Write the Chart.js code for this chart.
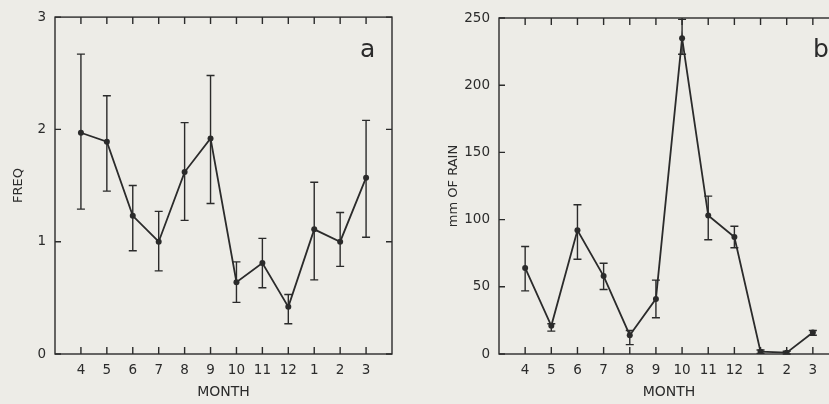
<!DOCTYPE html>
<html>
<head>
<title>Monthly frequency and rainfall</title>
<script src="https://cdn.jsdelivr.net/npm/chart.js@4.4.1/dist/chart.umd.min.js"></script>
<style>
    html, body { margin: 0; padding: 0; width: 829px; height: 404px; overflow: hidden; background: #edece7; }
    .panel { position: absolute; top: 0; height: 404px; }
    #panelA { left: 0; width: 420px; }
    #panelB { left: 420px; width: 440px; }
</style>
</head>
<body>
<div class="panel" id="panelA"><canvas id="freqChart" width="420" height="404"></canvas></div>
<div class="panel" id="panelB"><canvas id="rainChart" width="440" height="404"></canvas></div>

<script>
// months, April to March
const months = ['4', '5', '6', '7', '8', '9', '10', '11', '12', '1', '2', '3'];

// panel a - FREQ, mean with upper / lower bar ends
const freqMean = [1.97, 1.89, 1.23, 1.0, 1.62, 1.92, 0.64, 0.81, 0.42, 1.11, 1.0, 1.57];
const freqHigh = [2.67, 2.30, 1.50, 1.27, 2.06, 2.48, 0.82, 1.03, 0.53, 1.53, 1.26, 2.08];
const freqLow  = [1.29, 1.45, 0.92, 0.74, 1.19, 1.34, 0.46, 0.59, 0.27, 0.66, 0.78, 1.04];
const freqTicks = [0, 1, 2, 3];

// panel b - mm OF RAIN
const rainMean = [64, 21, 92, 58, 14, 41, 235, 103, 87, 1.7, 1, 16];
const rainHigh = [80, 22.5, 111, 67.5, 17.5, 55, 249, 117.5, 95, 3, 2, 17.5];
const rainLow  = [47, 17, 70.5, 48, 7, 27, 223, 85, 79, 0.5, 0, 14];
const rainTicks = [0, 50, 100, 150, 200, 250];

const ink = '#2b2b2b';
const font = 'DejaVu Sans';

// error bars, drawn from the scales
const errorBars = {
    id: 'errorBars',
    afterDatasetsDraw(chart, args, opts) {
        const ctx = chart.ctx;
        const xs = chart.scales.x, ys = chart.scales.y;
        ctx.save();
        ctx.strokeStyle = ink;
        ctx.lineWidth = 1.4;
        opts.high.forEach((hi, i) => {
            const x = xs.getPixelForValue(i);
            const yTop = ys.getPixelForValue(hi);
            const yBot = ys.getPixelForValue(opts.low[i]);
            ctx.beginPath();
            ctx.moveTo(x, yTop); ctx.lineTo(x, yBot);
            ctx.moveTo(x - 4, yTop); ctx.lineTo(x + 4, yTop);
            ctx.moveTo(x - 4, yBot); ctx.lineTo(x + 4, yBot);
            ctx.stroke();
        });
        ctx.restore();
    }
};

// box round the plot with inside tick marks on all four sides
const frame = {
    id: 'frame',
    afterDatasetsDraw(chart, args, opts) {
        const ctx = chart.ctx;
        const a = chart.chartArea;
        const xs = chart.scales.x, ys = chart.scales.y;
        const tl = 7;
        ctx.save();
        ctx.strokeStyle = ink;
        ctx.lineWidth = 1.4;
        ctx.strokeRect(a.left, a.top, a.right - a.left, a.bottom - a.top);
        ctx.beginPath();
        months.forEach((m, i) => {
            const x = xs.getPixelForValue(i);
            ctx.moveTo(x, a.bottom); ctx.lineTo(x, a.bottom - tl);
            ctx.moveTo(x, a.top); ctx.lineTo(x, a.top + tl);
        });
        opts.yticks.forEach(v => {
            const y = ys.getPixelForValue(v);
            ctx.moveTo(a.left, y); ctx.lineTo(a.left + tl - 1, y);
            ctx.moveTo(a.right, y); ctx.lineTo(a.right - tl + 1, y);
        });
        ctx.stroke();
        // panel letter
        ctx.fillStyle = ink;
        ctx.font = '25px ' + font;
        ctx.textAlign = 'left';
        ctx.textBaseline = 'alphabetic';
        ctx.fillText(opts.letter, opts.letterX, 57);
        ctx.restore();
    }
};

function makeChart(canvasId, mean, high, low, yTicks, yMax, yTitle, layout) {
    const points = mean.map((v, i) => ({ x: i, y: v }));
    return new Chart(document.getElementById(canvasId), {
        type: 'line',
        data: {
            datasets: [{
                data: points,
                borderColor: ink,
                backgroundColor: ink,
                borderWidth: 1.8,
                pointRadius: 3,
                pointBorderWidth: 0,
                tension: 0,
                fill: false
            }]
        },
        options: {
            responsive: false,
            animation: false,
            events: [],
            layout: { padding: { top: layout.top, right: layout.right, left: 0, bottom: 0 } },
            plugins: {
                legend: { display: false },
                tooltip: { enabled: false },
                errorBars: { high: high, low: low },
                frame: { yticks: yTicks, letter: layout.letter, letterX: layout.letterX }
            },
            scales: {
                x: {
                    type: 'linear',
                    min: -1,
                    max: 12,
                    afterBuildTicks: axis => { axis.ticks = months.map((m, i) => ({ value: i })); },
                    afterFit: axis => { axis.height = 50; },
                    grid: { display: false, drawTicks: false },
                    border: { display: false },
                    ticks: {
                        autoSkip: false,
                        maxRotation: 0,
                        padding: 8,
                        color: ink,
                        font: { family: font, size: 13.5 },
                        callback: v => months[v]
                    },
                    title: {
                        display: true,
                        text: 'MONTH',
                        color: ink,
                        font: { family: font, size: 14 },
                        padding: { top: 0, bottom: 3 }
                    }
                },
                y: {
                    min: 0,
                    max: yMax,
                    afterBuildTicks: axis => { axis.ticks = yTicks.map(v => ({ value: v })); },
                    afterFit: axis => { axis.width = layout.yWidth; },
                    grid: { display: false, drawTicks: false },
                    border: { display: false },
                    ticks: {
                        padding: 9,
                        color: ink,
                        font: { family: font, size: 13.5 }
                    },
                    title: {
                        display: true,
                        text: yTitle,
                        color: ink,
                        font: { family: font, size: 13 },
                        padding: { top: layout.titlePad, bottom: 0 }
                    }
                }
            }
        },
        plugins: [errorBars, frame]
    });
}

makeChart('freqChart', freqMean, freqHigh, freqLow, freqTicks, 3, 'FREQ',
    { top: 17, right: 28, yWidth: 55, titlePad: 11, letter: 'a', letterX: 360 });
makeChart('rainChart', rainMean, rainHigh, rainLow, rainTicks, 250, 'mm OF RAIN',
    { top: 18, right: 21, yWidth: 79, titlePad: 26, letter: 'b', letterX: 393 });
</script>
</body>
</html>
